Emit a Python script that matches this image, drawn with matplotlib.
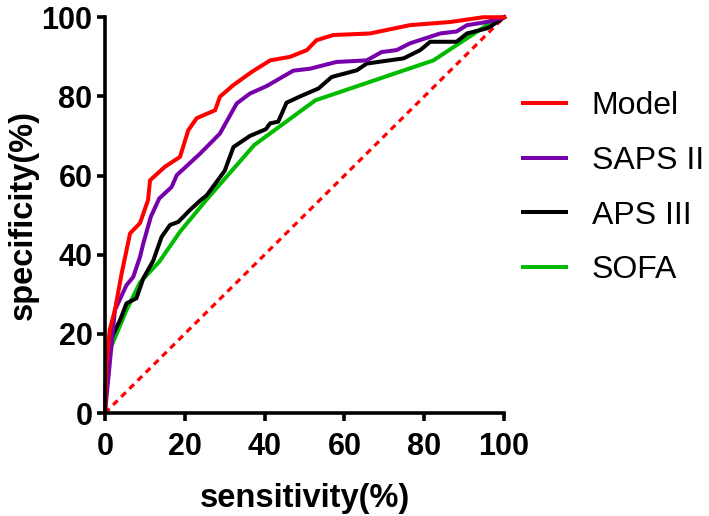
import matplotlib
matplotlib.use('Agg')
import matplotlib.pyplot as plt

plt.rcParams['font.family'] = ['Liberation Sans', 'DejaVu Sans']

# ROC curves: (sensitivity %, specificity %)
model_x = [0, 0.4, 1.2, 2.5, 4.2, 6.3, 8.8, 10.8, 11.3, 15, 18.8, 20.9, 23, 27.6, 28.8,
           32.1, 36.8, 41.4, 46.4, 50.6, 53, 57.2, 66.4, 76.4, 86.5, 94.8, 100]
model_y = [0, 12.6, 21, 26, 35.3, 45.4, 48, 53.8, 58.8, 62.2, 64.7, 71.5, 74.5, 76.5, 79.9,
           82.8, 86.2, 89.1, 90, 91.7, 94.2, 95.5, 95.9, 98, 98.8, 100, 100]

saps_x = [0, 2.5, 5.4, 7.1, 8.8, 9.6, 11.5, 13.6, 16.7, 18, 23.8, 28.8, 33, 36.3, 40.5,
          47.2, 51.4, 58, 65.6, 69.3, 73.1, 76.4, 84, 88.1, 90.7, 95.7, 100]
saps_y = [0, 26, 32.3, 34.4, 39.5, 42.8, 49.6, 54.2, 57.1, 60.1, 65.5, 70.6, 78.2, 80.7, 82.6,
          86.5, 87, 88.7, 89.1, 91.2, 91.7, 93.4, 95.9, 96.4, 98, 98.8, 100]

aps_x = [0, 0.4, 2.1, 3.8, 5.4, 7.9, 9.6, 12.1, 14.2, 16.3, 18.4, 21.3, 24, 25.5, 30,
         32.2, 36.3, 40.3, 41.4, 43.4, 45.5, 48.9, 53.5, 56.8, 63.1, 65.6, 74.8, 79,
         81.5, 88.1, 90.7, 95.7, 96.5, 100]
aps_y = [0, 15, 20, 23.5, 27.7, 29, 34, 38.5, 44.5, 47.5, 48.3, 51.3, 53.8, 55, 61.2,
         67.2, 70, 71.7, 73.2, 73.6, 78.4, 80, 82, 84.9, 86.6, 88.3, 89.6, 91.7,
         93.8, 93.8, 95.9, 97.2, 97.6, 100]

sofa_x = [0, 0.4, 2.5, 5.4, 8.8, 13.6, 18.8, 25.7, 37.4, 52.7, 82.3, 95.7, 100]
sofa_y = [0, 14, 19, 26, 33, 38.2, 45.8, 54.2, 67.7, 79, 89.1, 98, 100]

ticks = [0, 20, 40, 60, 80, 100]

fig = plt.figure(figsize=(7.09, 5.16), dpi=100)
ax = fig.add_axes([0.148, 0.1996, 0.563, 0.767])

ax.plot([0, 100], [0, 100], color='#ff0000', linestyle=(0, (2, 1.6)), linewidth=2.3, clip_on=False)
ax.plot(sofa_x, sofa_y, color='#00bb00', linewidth=2.9, label='SOFA', clip_on=False)
ax.plot(aps_x, aps_y, color='black', linewidth=2.9, label='APS III', clip_on=False)
ax.plot(saps_x, saps_y, color='#7700aa', linewidth=2.9, label='SAPS II', clip_on=False)
ax.plot(model_x, model_y, color='#ff0000', linewidth=2.9, label='Model', clip_on=False)

ax.set_xlim(0, 100)
ax.set_ylim(0, 100)
ax.set_xticks(ticks)
ax.set_yticks(ticks)
ax.tick_params(direction='out', length=6, width=2.6, labelsize=22)
ax.tick_params(axis='x', pad=8)
ax.tick_params(axis='y', pad=3)
for lab in ax.get_xticklabels() + ax.get_yticklabels():
    lab.set_fontweight('bold')
for s in ['top', 'right']:
    ax.spines[s].set_visible(False)
for s in ['left', 'bottom']:
    ax.spines[s].set_linewidth(2.6)

ax.set_xlabel('sensitivity(%)', fontsize=23.5, fontweight='bold', labelpad=15)
ax.set_ylabel('specificity(%)', fontsize=23.5, fontweight='bold', labelpad=2)

handles, labels = ax.get_legend_handles_labels()
order = [3, 2, 1, 0]
ax.legend([handles[i] for i in order], [labels[i] for i in order],
          loc='upper left', bbox_to_anchor=(1.015, 0.845), borderaxespad=0, frameon=False,
          fontsize=23, handlelength=1.35, handletextpad=0.8, labelspacing=0.77)

fig.savefig('out.png', dpi=100)
